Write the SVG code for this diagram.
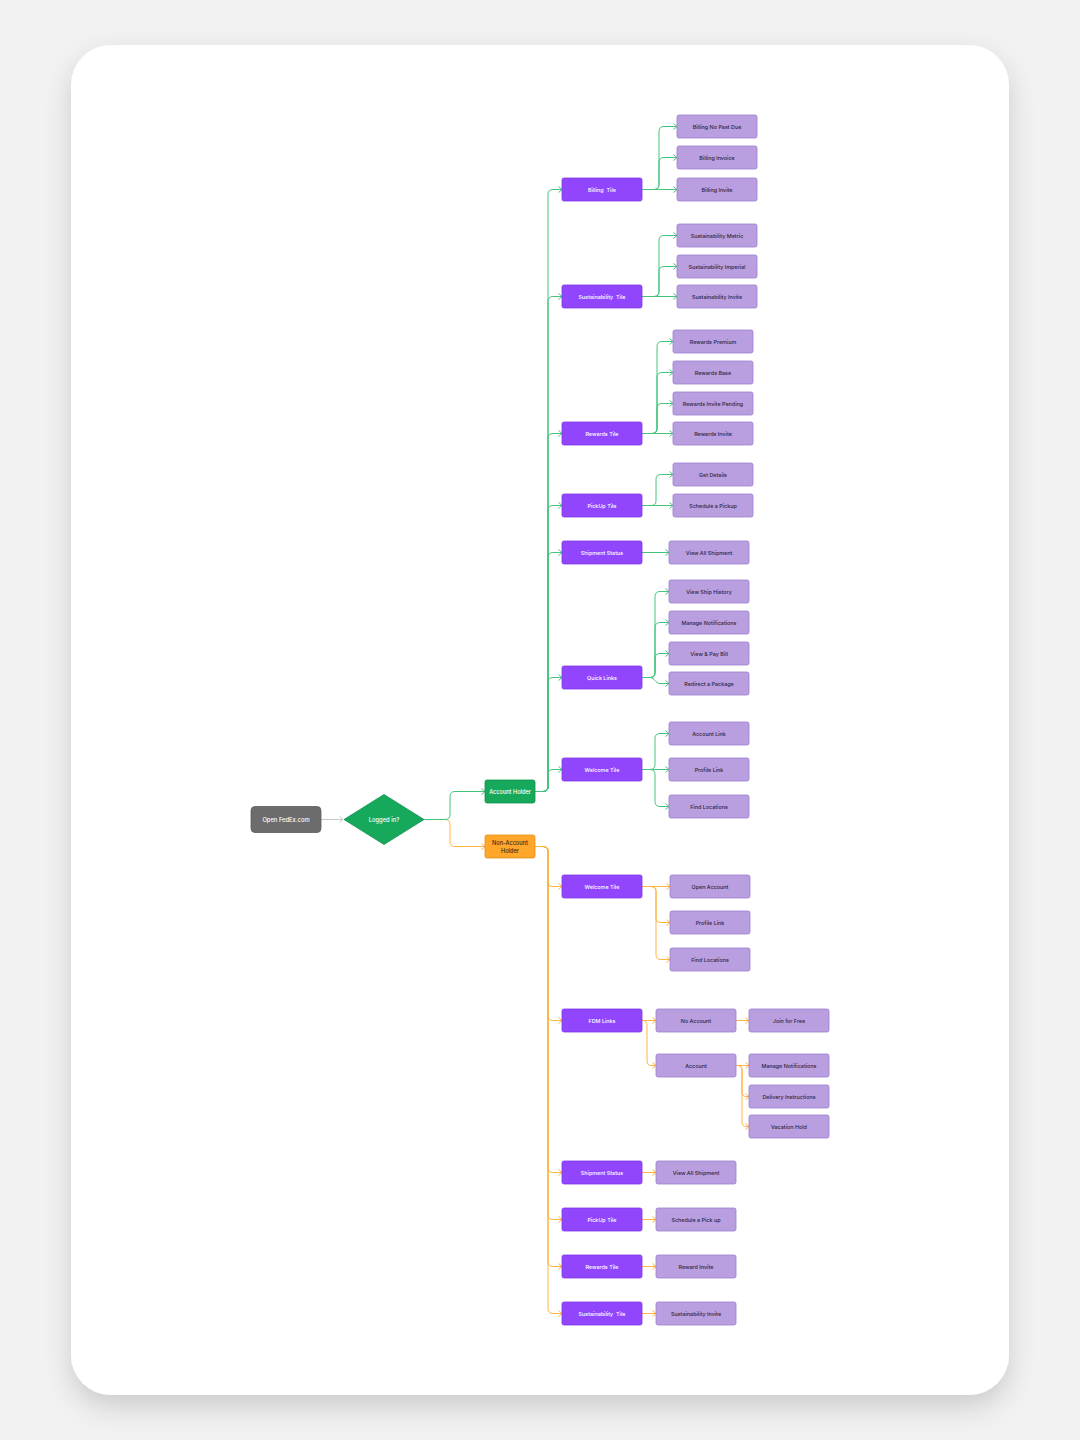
<svg xmlns="http://www.w3.org/2000/svg" width="1080" height="1440" viewBox="0 0 1080 1440">
<defs>
<filter id="sh" x="-10%" y="-10%" width="120%" height="120%">
<feDropShadow dx="0" dy="12" stdDeviation="14" flood-color="#000" flood-opacity="0.16"/>
</filter>
<marker id="ag" markerUnits="userSpaceOnUse" markerWidth="8" markerHeight="8" refX="4" refY="3.5" orient="auto"><path d="M0.5,0.5 L4,3.5 L0.5,6.5" fill="none" stroke="#45c47c" stroke-width="1"/></marker>
<marker id="ao" markerUnits="userSpaceOnUse" markerWidth="8" markerHeight="8" refX="4" refY="3.5" orient="auto"><path d="M0.5,0.5 L4,3.5 L0.5,6.5" fill="none" stroke="#ffb340" stroke-width="1"/></marker>
<marker id="ax" markerUnits="userSpaceOnUse" markerWidth="8" markerHeight="8" refX="4" refY="3.5" orient="auto"><path d="M0.5,0.5 L4,3.5 L0.5,6.5" fill="none" stroke="#c6c6c6" stroke-width="1"/></marker>
</defs>
<style>
text{font-family:Inter,"Liberation Sans",sans-serif;text-anchor:middle;dominant-baseline:central;white-space:pre}
.t rect{fill:#9146fd;stroke:#7d36e6;stroke-width:0.8}
.t text{fill:#fff;font-size:5.4px;font-weight:500}
.c rect{fill:#b99ee0;stroke:#9d7fd0;stroke-width:0.8}
.c text{fill:#2e2540;font-size:5.4px;font-weight:500}
.g{fill:none;stroke:#45c47c;stroke-width:1;marker-end:url(#ag)}
.o{fill:none;stroke:#ffb340;stroke-width:1;marker-end:url(#ao)}
</style>
<rect width="1080" height="1440" fill="#f2f2f2"/>
<rect x="71" y="45" width="938" height="1350" rx="40" fill="#fff" filter="url(#sh)"/>

<g id="connectors">
<path d="M321,819.5 H343" fill="none" stroke="#c6c6c6" stroke-width="1" marker-end="url(#ax)"/>
<path class="o" d="M424,819.5 H445 Q450,819.5 450,824.5 V841.5 Q450,846.5 455,846.5 H485"/>
<path class="g" d="M424,819.5 H445 Q450,819.5 450,814.5 V796.5 Q450,791.5 455,791.5 H485"/>
<!-- account holder trunk -->
<path class="g" d="M535,791.5 H543 Q548,791.5 548,786.5 V194.5 Q548,189.5 553,189.5 H562"/>
<path class="g" d="M535,791.5 H543 Q548,791.5 548,786.5 V301.5 Q548,296.5 553,296.5 H562"/>
<path class="g" d="M535,791.5 H543 Q548,791.5 548,786.5 V438.5 Q548,433.5 553,433.5 H562"/>
<path class="g" d="M535,791.5 H543 Q548,791.5 548,786.5 V510.5 Q548,505.5 553,505.5 H562"/>
<path class="g" d="M535,791.5 H543 Q548,791.5 548,786.5 V557.5 Q548,552.5 553,552.5 H562"/>
<path class="g" d="M535,791.5 H543 Q548,791.5 548,786.5 V682.5 Q548,677.5 553,677.5 H562"/>
<path class="g" d="M535,791.5 H543 Q548,791.5 548,786.5 V774.5 Q548,769.5 553,769.5 H562"/>
<!-- billing -->
<path class="g" d="M642,189.5 H654 Q659,189.5 659,184.5 V131.5 Q659,126.5 664,126.5 H677"/>
<path class="g" d="M642,189.5 H654 Q659,189.5 659,184.5 V162.5 Q659,157.5 664,157.5 H677"/>
<path class="g" d="M642,189.5 H677"/>
<!-- sustainability -->
<path class="g" d="M642,296.5 H654 Q659,296.5 659,291.5 V240.5 Q659,235.5 664,235.5 H677"/>
<path class="g" d="M642,296.5 H654 Q659,296.5 659,291.5 V271.5 Q659,266.5 664,266.5 H677"/>
<path class="g" d="M642,296.5 H677"/>
<!-- rewards -->
<path class="g" d="M642,433.5 H652 Q657,433.5 657,428.5 V346.5 Q657,341.5 662,341.5 H673"/>
<path class="g" d="M642,433.5 H652 Q657,433.5 657,428.5 V377.5 Q657,372.5 662,372.5 H673"/>
<path class="g" d="M642,433.5 H652 Q657,433.5 657,428.5 V408.5 Q657,403.5 662,403.5 H673"/>
<path class="g" d="M642,433.5 H673"/>
<!-- pickup -->
<path class="g" d="M642,505.5 H651 Q656,505.5 656,500.5 V479.5 Q656,474.5 661,474.5 H673"/>
<path class="g" d="M642,505.5 H673"/>
<!-- shipment -->
<path class="g" d="M642,552.5 H669"/>
<!-- quick links -->
<path class="g" d="M642,677.5 H650 Q655,677.5 655,672.5 V596.5 Q655,591.5 660,591.5 H669"/>
<path class="g" d="M642,677.5 H650 Q655,677.5 655,672.5 V627.5 Q655,622.5 660,622.5 H669"/>
<path class="g" d="M642,677.5 H650 Q655,677.5 655,672.5 V658.5 Q655,653.5 660,653.5 H669"/>
<path class="g" d="M642,677.5 H650 C655,677.5 655,683.5 660,683.5 H669"/>
<!-- welcome -->
<path class="g" d="M642,769.5 H650 Q655,769.5 655,764.5 V738.5 Q655,733.5 660,733.5 H669"/>
<path class="g" d="M642,769.5 H669"/>
<path class="g" d="M642,769.5 H650 Q655,769.5 655,774.5 V801.5 Q655,806.5 660,806.5 H669"/>
<!-- non account trunk -->
<path class="o" d="M535,846.5 H543 Q548,846.5 548,851.5 V881.5 Q548,886.5 553,886.5 H562"/>
<path class="o" d="M535,846.5 H543 Q548,846.5 548,851.5 V1015.5 Q548,1020.5 553,1020.5 H562"/>
<path class="o" d="M535,846.5 H543 Q548,846.5 548,851.5 V1167.5 Q548,1172.5 553,1172.5 H562"/>
<path class="o" d="M535,846.5 H543 Q548,846.5 548,851.5 V1214.5 Q548,1219.5 553,1219.5 H562"/>
<path class="o" d="M535,846.5 H543 Q548,846.5 548,851.5 V1261.5 Q548,1266.5 553,1266.5 H562"/>
<path class="o" d="M535,846.5 H543 Q548,846.5 548,851.5 V1308.5 Q548,1313.5 553,1313.5 H562"/>
<!-- welcome orange -->
<path class="o" d="M642,886.5 H670"/>
<path class="o" d="M642,886.5 H651 Q656,886.5 656,891.5 V917.5 Q656,922.5 661,922.5 H670"/>
<path class="o" d="M642,886.5 H651 Q656,886.5 656,891.5 V954.5 Q656,959.5 661,959.5 H670"/>
<!-- fdm -->
<path class="o" d="M642,1020.5 H656"/>
<path class="o" d="M642,1020.5 H643 Q647,1020.5 647,1025.5 V1060.5 Q647,1065.5 651,1065.5 H656"/>
<path class="o" d="M736,1020.5 H749"/>
<path class="o" d="M736,1065.5 H749"/>
<path class="o" d="M736,1065.5 H738 Q742,1065.5 742,1070.5 V1091.5 Q742,1096.5 746,1096.5 H749"/>
<path class="o" d="M736,1065.5 H738 Q742,1065.5 742,1070.5 V1121.5 Q742,1126.5 746,1126.5 H749"/>
<!-- singles -->
<path class="o" d="M642,1172.5 H656"/>
<path class="o" d="M642,1219.5 H656"/>
<path class="o" d="M642,1266.5 H656"/>
<path class="o" d="M642,1313.5 H656"/>
</g>

<g id="n-open"><rect x="251" y="806.5" width="70" height="26" rx="4" fill="#6c6c6c" stroke="#5d5d5d" stroke-width="0.8"/><text x="286" y="819.5" fill="#fff" font-size="5.8" font-weight="500">Open FedEx.com</text></g>
<g id="n-logged"><polygon points="384,794.5 424,819.5 384,844.5 344,819.5" fill="#17a95b" stroke="#12914d" stroke-width="0.8"/><text x="384" y="819.5" fill="#fff" font-size="5.8" font-weight="500">Logged in?</text></g>
<g id="n-ah"><rect x="485" y="780" width="50" height="23" rx="2" fill="#17a95b" stroke="#12914d" stroke-width="0.8"/><text x="510" y="791.5" fill="#fff" font-size="5.6" font-weight="500">Account Holder</text></g>
<g id="n-nah"><rect x="485" y="835" width="50" height="23" rx="2" fill="#ffa62b" stroke="#e58f16" stroke-width="0.8"/><text x="510" y="842.5" fill="#3b2a10" font-size="5.6" font-weight="500">Non-Account</text><text x="510" y="851" fill="#3b2a10" font-size="5.6" font-weight="500">Holder</text></g>

<g id="t-billing" class="t"><rect x="562" y="178" width="80" height="23" rx="2"/><text x="602" y="189.5">Billing  Tile</text></g>
<g id="c-billing-npd" class="c"><rect x="677" y="115" width="80" height="23" rx="2"/><text x="717" y="126.5">Billing No Past Due</text></g>
<g id="c-billing-inv" class="c"><rect x="677" y="146" width="80" height="23" rx="2"/><text x="717" y="157.5">Billing Invoice</text></g>
<g id="c-billing-invite" class="c"><rect x="677" y="178" width="80" height="23" rx="2"/><text x="717" y="189.5">Billing Invite</text></g>

<g id="t-sust" class="t"><rect x="562" y="285" width="80" height="23" rx="2"/><text x="602" y="296.5">Sustainability  Tile</text></g>
<g id="c-sust-metric" class="c"><rect x="677" y="224" width="80" height="23" rx="2"/><text x="717" y="235.5">Sustainability Metric</text></g>
<g id="c-sust-imp" class="c"><rect x="677" y="255" width="80" height="23" rx="2"/><text x="717" y="266.5">Sustainability Imperial</text></g>
<g id="c-sust-invite" class="c"><rect x="677" y="285" width="80" height="23" rx="2"/><text x="717" y="296.5">Sustainability Invite</text></g>

<g id="t-rewards" class="t"><rect x="562" y="422" width="80" height="23" rx="2"/><text x="602" y="433.5">Rewards Tile</text></g>
<g id="c-rew-prem" class="c"><rect x="673" y="330" width="80" height="23" rx="2"/><text x="713" y="341.5">Rewards Premium</text></g>
<g id="c-rew-base" class="c"><rect x="673" y="361" width="80" height="23" rx="2"/><text x="713" y="372.5">Rewards Base</text></g>
<g id="c-rew-pend" class="c"><rect x="673" y="392" width="80" height="23" rx="2"/><text x="713" y="403.5">Rewards Invite Pending</text></g>
<g id="c-rew-inv" class="c"><rect x="673" y="422" width="80" height="23" rx="2"/><text x="713" y="433.5">Rewards Invite</text></g>

<g id="t-pickup" class="t"><rect x="562" y="494" width="80" height="23" rx="2"/><text x="602" y="505.5">PickUp Tile</text></g>
<g id="c-getdetails" class="c"><rect x="673" y="463" width="80" height="23" rx="2"/><text x="713" y="474.5">Get Details</text></g>
<g id="c-schedule" class="c"><rect x="673" y="494" width="80" height="23" rx="2"/><text x="713" y="505.5">Schedule a Pickup</text></g>

<g id="t-ship" class="t"><rect x="562" y="541" width="80" height="23" rx="2"/><text x="602" y="552.5">Shipment Status</text></g>
<g id="c-viewall" class="c"><rect x="669" y="541" width="80" height="23" rx="2"/><text x="709" y="552.5">View All Shipment</text></g>

<g id="t-quick" class="t"><rect x="562" y="666" width="80" height="23" rx="2"/><text x="602" y="677.5">Quick Links</text></g>
<g id="c-history" class="c"><rect x="669" y="580" width="80" height="23" rx="2"/><text x="709" y="591.5">View Ship History</text></g>
<g id="c-notif" class="c"><rect x="669" y="611" width="80" height="23" rx="2"/><text x="709" y="622.5">Manage Notifications</text></g>
<g id="c-paybill" class="c"><rect x="669" y="642" width="80" height="23" rx="2"/><text x="709" y="653.5">View &amp; Pay Bill</text></g>
<g id="c-redirect" class="c"><rect x="669" y="672" width="80" height="23" rx="2"/><text x="709" y="683.5">Redirect a Package</text></g>

<g id="t-welcome" class="t"><rect x="562" y="758" width="80" height="23" rx="2"/><text x="602" y="769.5">Welcome Tile</text></g>
<g id="c-acclink" class="c"><rect x="669" y="722" width="80" height="23" rx="2"/><text x="709" y="733.5">Account Link</text></g>
<g id="c-proflink" class="c"><rect x="669" y="758" width="80" height="23" rx="2"/><text x="709" y="769.5">Profile Link</text></g>
<g id="c-findloc" class="c"><rect x="669" y="795" width="80" height="23" rx="2"/><text x="709" y="806.5">Find Locations</text></g>

<g id="t-welcome2" class="t"><rect x="562" y="875" width="80" height="23" rx="2"/><text x="602" y="886.5">Welcome Tile</text></g>
<g id="c-openacc" class="c"><rect x="670" y="875" width="80" height="23" rx="2"/><text x="710" y="886.5">Open Account</text></g>
<g id="c-proflink2" class="c"><rect x="670" y="911" width="80" height="23" rx="2"/><text x="710" y="922.5">Profile Link</text></g>
<g id="c-findloc2" class="c"><rect x="670" y="948" width="80" height="23" rx="2"/><text x="710" y="959.5">Find Locations</text></g>

<g id="t-fdm" class="t"><rect x="562" y="1009" width="80" height="23" rx="2"/><text x="602" y="1020.5">FDM Links</text></g>
<g id="c-noacc" class="c"><rect x="656" y="1009" width="80" height="23" rx="2"/><text x="696" y="1020.5">No Account</text></g>
<g id="c-join" class="c"><rect x="749" y="1009" width="80" height="23" rx="2"/><text x="789" y="1020.5">Join for Free</text></g>
<g id="c-acc" class="c"><rect x="656" y="1054" width="80" height="23" rx="2"/><text x="696" y="1065.5">Account</text></g>
<g id="c-notif2" class="c"><rect x="749" y="1054" width="80" height="23" rx="2"/><text x="789" y="1065.5">Manage Notifications</text></g>
<g id="c-delivery" class="c"><rect x="749" y="1085" width="80" height="23" rx="2"/><text x="789" y="1096.5">Delivery Instructions</text></g>
<g id="c-vacation" class="c"><rect x="749" y="1115" width="80" height="23" rx="2"/><text x="789" y="1126.5">Vacation Hold</text></g>

<g id="t-ship2" class="t"><rect x="562" y="1161" width="80" height="23" rx="2"/><text x="602" y="1172.5">Shipment Status</text></g>
<g id="c-viewall2" class="c"><rect x="656" y="1161" width="80" height="23" rx="2"/><text x="696" y="1172.5">View All Shipment</text></g>
<g id="t-pickup2" class="t"><rect x="562" y="1208" width="80" height="23" rx="2"/><text x="602" y="1219.5">PickUp Tile</text></g>
<g id="c-schedule2" class="c"><rect x="656" y="1208" width="80" height="23" rx="2"/><text x="696" y="1219.5">Schedule a Pick up</text></g>
<g id="t-rewards2" class="t"><rect x="562" y="1255" width="80" height="23" rx="2"/><text x="602" y="1266.5">Rewards Tile</text></g>
<g id="c-rewinv2" class="c"><rect x="656" y="1255" width="80" height="23" rx="2"/><text x="696" y="1266.5">Reward Invite</text></g>
<g id="t-sust2" class="t"><rect x="562" y="1302" width="80" height="23" rx="2"/><text x="602" y="1313.5">Sustainability  Tile</text></g>
<g id="c-sustinv2" class="c"><rect x="656" y="1302" width="80" height="23" rx="2"/><text x="696" y="1313.5">Sustainability Invite</text></g>
</svg>
